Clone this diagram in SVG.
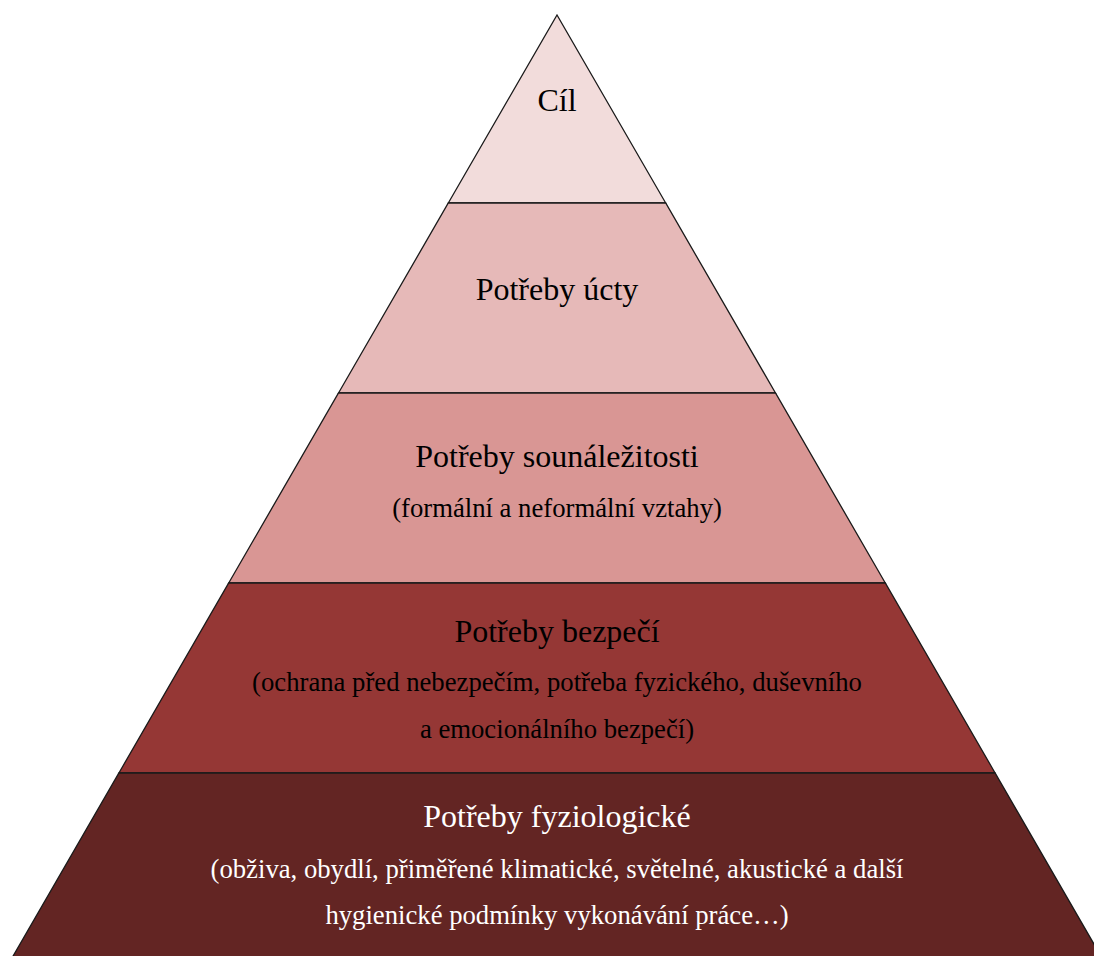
<svg xmlns="http://www.w3.org/2000/svg" width="1094" height="956" viewBox="0 0 1094 956">
<style>
.layer{stroke:#1a1a1a;stroke-width:1.3;stroke-linejoin:miter}
.h{font-family:"Liberation Serif","Times New Roman",serif;font-size:32px;text-anchor:middle}
.s{font-family:"Liberation Serif","Times New Roman",serif;font-size:26.7px;text-anchor:middle}
.dark{fill:#000}
.light{fill:#fff}
</style>
<rect x="0" y="0" width="1094" height="956" fill="#fff"/>
<g id="level-5">
<polygon class="layer" fill="#F2DCDB" points="557,15 665.7,203 448.3,203"/>
<text class="h dark" x="557" y="111">Cíl</text>
</g>
<g id="level-4">
<polygon class="layer" fill="#E6B9B8" points="448.3,203 665.7,203 775.5,393 338.5,393"/>
<text class="h dark" x="557" y="300">Potřeby úcty</text>
</g>
<g id="level-3">
<polygon class="layer" fill="#D99694" points="338.5,393 775.5,393 885.3,583 228.7,583"/>
<text class="h dark" x="557" y="467">Potřeby sounáležitosti</text>
<text class="s dark" x="557" y="517">(formální a neformální vztahy)</text>
</g>
<g id="level-2">
<polygon class="layer" fill="#953735" points="228.7,583 885.3,583 995.1,773 118.9,773"/>
<text class="h dark" x="557" y="642">Potřeby bezpečí</text>
<text class="s dark" x="557" y="691">(ochrana před nebezpečím, potřeba fyzického, duševního</text>
<text class="s dark" x="557" y="738">a emocionálního bezpečí)</text>
</g>
<g id="level-1">
<polygon class="layer" fill="#632523" points="118.9,773 995.1,773 1103.2,960 10.8,960"/>
<text class="h light" x="557" y="827">Potřeby fyziologické</text>
<text class="s light" x="557" y="878">(obživa, obydlí, přiměřené klimatické, světelné, akustické a další</text>
<text class="s light" x="557" y="924">hygienické podmínky vykonávání práce…)</text>
</g>
<g id="connectors"></g>
</svg>
